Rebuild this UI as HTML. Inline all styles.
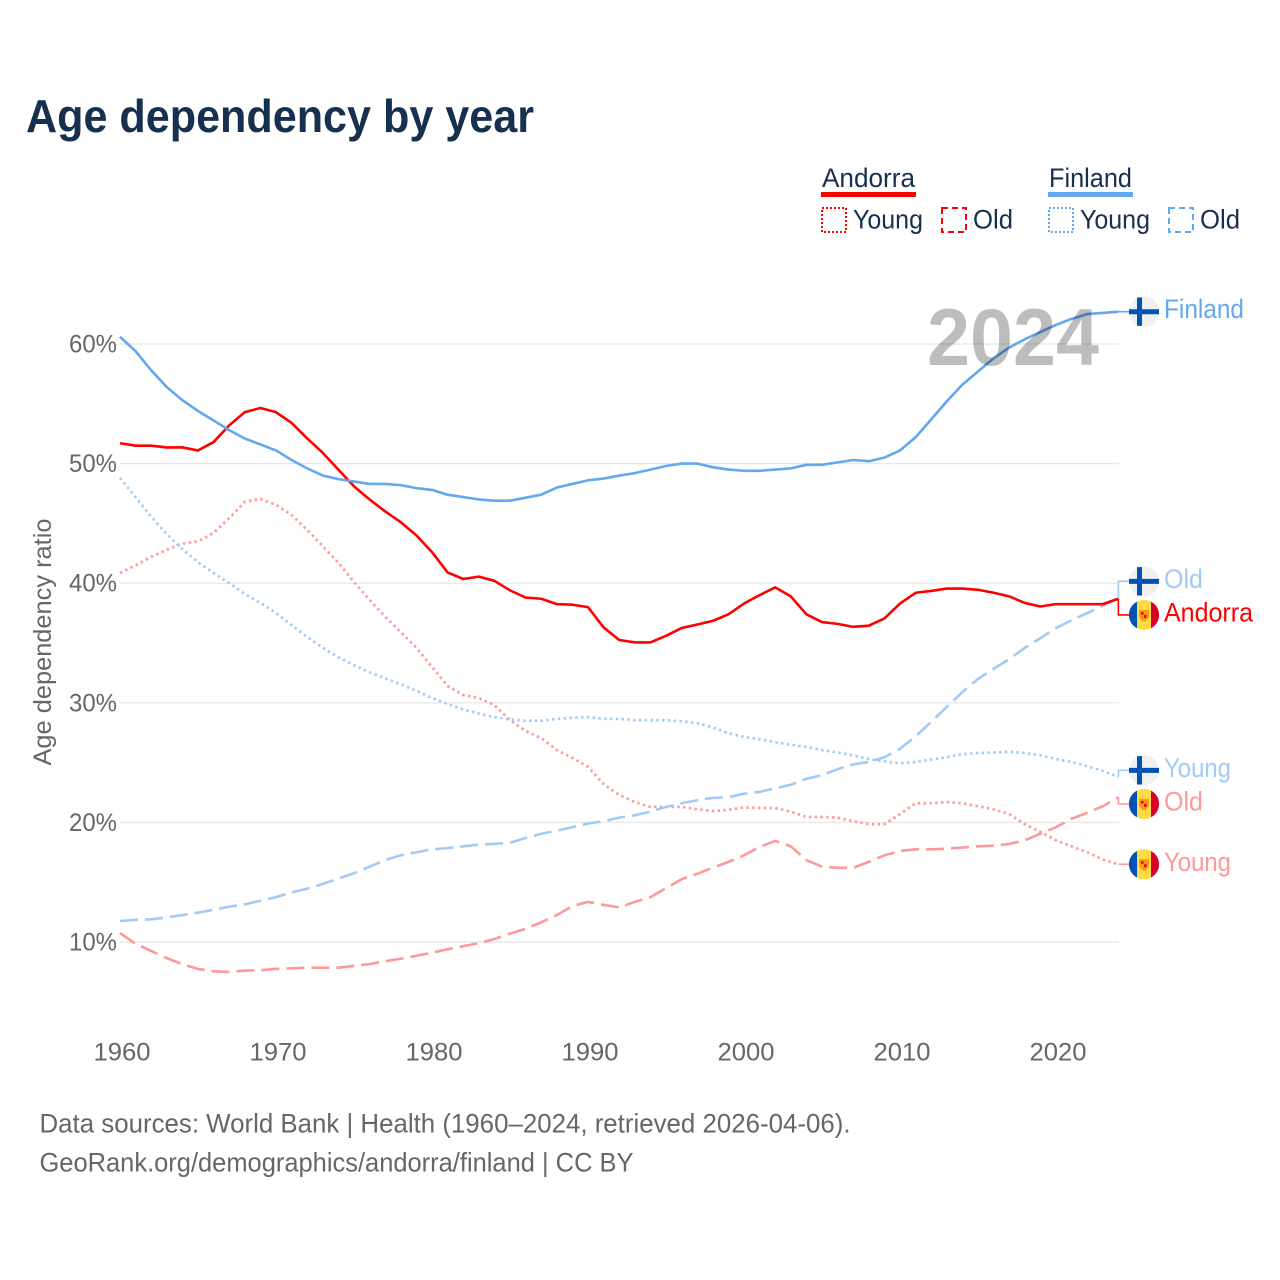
<!DOCTYPE html>
<html lang="en">
<head>
<meta charset="utf-8">
<title>Age dependency by year</title>
<style>
html,body{margin:0;padding:0;background:#fff;}
svg{display:block;font-family:"Liberation Sans",sans-serif;}
</style>
</head>
<body>
<svg id="chart" xmlns="http://www.w3.org/2000/svg" width="1280" height="1280" viewBox="0 0 1280 1280">
  <rect width="1280" height="1280" fill="#ffffff"/>
  <text x="26" y="132" font-size="46" font-weight="700" fill="#17304f" textLength="508" lengthAdjust="spacingAndGlyphs">Age dependency by year</text>

  <g>
    <g>
      <text x="822" y="187" font-size="27" fill="#17304f" textLength="93" lengthAdjust="spacingAndGlyphs">Andorra</text>
      <rect x="821" y="192" width="95" height="5" fill="#ff0000"/>
      <rect x="822" y="208" width="24" height="24" fill="none" stroke="#ff0000" stroke-width="2" stroke-dasharray="2 2"/>
      <text x="853" y="228.5" font-size="27" fill="#17304f" textLength="70" lengthAdjust="spacingAndGlyphs">Young</text>
      <rect x="942" y="208" width="24" height="24" fill="none" stroke="#ff0000" stroke-width="2" stroke-dasharray="6 4"/>
      <text x="973" y="228.5" font-size="27" fill="#17304f" textLength="40" lengthAdjust="spacingAndGlyphs">Old</text>
    </g>
    <g>
      <text x="1049" y="187" font-size="27" fill="#17304f" textLength="83" lengthAdjust="spacingAndGlyphs">Finland</text>
      <rect x="1048" y="192" width="85" height="5" fill="#63a8ef"/>
      <rect x="1049" y="208" width="24" height="24" fill="none" stroke="#63a8ef" stroke-width="2" stroke-dasharray="2 2"/>
      <text x="1080" y="228.5" font-size="27" fill="#17304f" textLength="70" lengthAdjust="spacingAndGlyphs">Young</text>
      <rect x="1169" y="208" width="24" height="24" fill="none" stroke="#63a8ef" stroke-width="2" stroke-dasharray="6 4"/>
      <text x="1200" y="228.5" font-size="27" fill="#17304f" textLength="40" lengthAdjust="spacingAndGlyphs">Old</text>
    </g>
  </g>

  <g id="grid"></g>
  <g id="y-ticks"></g>
  <g id="x-ticks"></g>
  <text transform="translate(51,642) rotate(-90)" text-anchor="middle" font-size="25" fill="#666666" textLength="247" lengthAdjust="spacingAndGlyphs">Age dependency ratio</text>

  <g id="series"></g>

  <text x="927" y="365" font-size="81" font-weight="700" fill="#000000" fill-opacity="0.26" textLength="172" lengthAdjust="spacingAndGlyphs">2024</text>

  <g id="end-labels"></g>

  <text x="39.5" y="1132.5" font-size="26.5" fill="#666666" textLength="811" lengthAdjust="spacingAndGlyphs">Data sources: World Bank | Health (1960–2024, retrieved 2026-04-06).</text>
  <text x="39.5" y="1171.5" font-size="26.5" fill="#666666" textLength="594" lengthAdjust="spacingAndGlyphs">GeoRank.org/demographics/andorra/finland | CC BY</text>
</svg>

<script>
const years = [1960,1961,1962,1963,1964,1965,1966,1967,1968,1969,1970,1971,1972,1973,1974,1975,1976,1977,1978,1979,1980,1981,1982,1983,1984,1985,1986,1987,1988,1989,1990,1991,1992,1993,1994,1995,1996,1997,1998,1999,2000,2001,2002,2003,2004,2005,2006,2007,2008,2009,2010,2011,2012,2013,2014,2015,2016,2017,2018,2019,2020,2021,2022,2023,2024];
const yTickValues = [10,20,30,40,50,60];
const xTickValues = [1960,1970,1980,1990,2000,2010,2020];

const finlandTotal = [60.6,59.4,57.8,56.4,55.3,54.4,53.6,52.8,52.1,51.6,51.1,50.3,49.6,49.0,48.7,48.5,48.3,48.3,48.2,47.95,47.8,47.4,47.2,47.0,46.9,46.9,47.15,47.4,48.0,48.3,48.6,48.75,49.0,49.2,49.5,49.8,50.0,50.0,49.7,49.5,49.4,49.4,49.5,49.6,49.9,49.9,50.1,50.3,50.2,50.5,51.1,52.2,53.7,55.2,56.6,57.7,58.8,59.7,60.4,61.0,61.6,62.1,62.5,62.6,62.7];
const andorraTotal = [51.7,51.5,51.5,51.35,51.35,51.1,51.8,53.2,54.3,54.65,54.3,53.4,52.1,50.9,49.5,48.1,47.0,46.0,45.1,44.0,42.6,40.9,40.35,40.55,40.2,39.4,38.8,38.7,38.25,38.2,38.0,36.3,35.25,35.05,35.05,35.6,36.25,36.55,36.85,37.4,38.3,39.0,39.65,38.9,37.4,36.75,36.6,36.35,36.45,37.05,38.3,39.2,39.35,39.55,39.55,39.45,39.2,38.9,38.35,38.05,38.25,38.25,38.25,38.25,38.7];
const andorraYoung = [40.85,41.5,42.2,42.8,43.3,43.5,44.2,45.45,46.8,47.05,46.55,45.7,44.45,43.1,41.7,40.1,38.6,37.2,35.9,34.6,33.0,31.4,30.65,30.4,29.8,28.55,27.65,27.05,26.05,25.4,24.65,23.2,22.3,21.7,21.3,21.3,21.3,21.1,20.95,21.05,21.25,21.2,21.2,20.9,20.45,20.45,20.4,20.1,19.85,19.85,20.7,21.6,21.6,21.7,21.6,21.35,21.1,20.7,19.85,19.2,18.5,18.0,17.5,16.9,16.5];
const andorraOld = [10.75,9.85,9.25,8.65,8.15,7.75,7.55,7.5,7.6,7.65,7.75,7.8,7.85,7.85,7.85,8.0,8.15,8.4,8.6,8.85,9.1,9.4,9.65,9.9,10.25,10.7,11.1,11.65,12.25,13.0,13.35,13.1,12.9,13.35,13.75,14.5,15.25,15.7,16.2,16.7,17.25,17.95,18.45,18.0,16.85,16.3,16.2,16.2,16.7,17.25,17.6,17.75,17.75,17.8,17.9,18.0,18.05,18.2,18.5,19.05,19.6,20.3,20.8,21.35,22.1];
const finlandYoung = [48.8,47.2,45.55,44.1,42.85,41.75,40.85,40.0,39.1,38.35,37.5,36.5,35.5,34.6,33.8,33.15,32.55,32.05,31.55,31.0,30.4,29.9,29.45,29.1,28.8,28.6,28.5,28.5,28.65,28.75,28.8,28.65,28.65,28.55,28.55,28.55,28.45,28.3,27.95,27.45,27.15,26.95,26.7,26.5,26.3,26.05,25.85,25.6,25.3,25.1,24.95,25.05,25.25,25.45,25.7,25.8,25.85,25.9,25.8,25.6,25.3,25.05,24.7,24.3,23.8];
const finlandOld = [11.75,11.85,11.9,12.05,12.25,12.45,12.7,12.95,13.15,13.45,13.75,14.15,14.45,14.85,15.3,15.75,16.3,16.85,17.25,17.5,17.75,17.85,18.0,18.15,18.2,18.3,18.7,19.05,19.3,19.6,19.9,20.1,20.4,20.6,20.9,21.3,21.6,21.85,22.05,22.1,22.4,22.55,22.85,23.15,23.65,23.95,24.45,24.85,25.05,25.45,26.15,27.2,28.4,29.65,30.9,32.0,32.85,33.65,34.6,35.4,36.25,36.9,37.5,38.1,38.8];

const NS = 'http://www.w3.org/2000/svg';
const xScale = function (year) { return 120 + (year - 1960) * 15.6; };
const yScale = function (value) { return 942 - (value - 10) * 11.96; };

function mk(tag, attrs, parent) {
  const el = document.createElementNS(NS, tag);
  for (const k in attrs) el.setAttribute(k, attrs[k]);
  parent.appendChild(el);
  return el;
}

const gridG = document.getElementById('grid');
const yTickG = document.getElementById('y-ticks');
const xTickG = document.getElementById('x-ticks');
const seriesG = document.getElementById('series');
const endG = document.getElementById('end-labels');

yTickValues.forEach(function (v) {
  const line = mk('line', {x1: 120, x2: 1119, y1: yScale(v), y2: yScale(v), stroke: '#e8e8e8', 'stroke-width': 1.4}, gridG);
  
  
  const label = mk('text', {x: 117, y: yScale(v) + 8.5, 'text-anchor': 'end', 'font-size': 25, fill: '#666666', textLength: 48, lengthAdjust: 'spacingAndGlyphs'}, yTickG);
  
  
  label.textContent = v + '%';
});

xTickValues.forEach(function (yr) {
  const label = mk('text', {x: xScale(yr) + 2, y: 1060.5, 'text-anchor': 'middle', 'font-size': 25, fill: '#666666', textLength: 57, lengthAdjust: 'spacingAndGlyphs'}, xTickG);
  
  
  label.textContent = yr;
});

function linePath(values) {
  return values.map(function (v, i) {
    return (i ? 'L' : 'M') + xScale(years[i]).toFixed(2) + ' ' + yScale(v).toFixed(2);
  }).join(' ');
}

function drawSeries(values, color, dash, width, name) {
  const attrs = {d: linePath(values), fill: 'none', stroke: color, 'stroke-width': width, 'stroke-linejoin': 'round'};
  if (dash) attrs['stroke-dasharray'] = dash;
  const p = mk('path', attrs, seriesG);
  
  
}

const PINK = '#ff9999';
const SKY = '#a1cbf5';
const BLUE = '#63a8ef';
const RED = '#ff0000';
const DOTS = '2.4 3.4';
const DASHES = '18 7';

drawSeries(andorraYoung, PINK, DOTS, 2.7, 'line-andorra-young');
drawSeries(finlandYoung, SKY, DOTS, 2.7, 'line-finland-young');
drawSeries(andorraOld, PINK, DASHES, 2.6, 'line-andorra-old');
drawSeries(finlandOld, SKY, DASHES, 2.6, 'line-finland-old');
drawSeries(andorraTotal, RED, null, 2.6, 'line-andorra-total');
drawSeries(finlandTotal, BLUE, null, 2.6, 'line-finland-total');

/* End labels: start at each series' last value, then spread apart to avoid overlap. */
const endItems = [
  {series: finlandTotal, text: 'Finland', color: BLUE, flag: 'fi', width: 80},
  {series: finlandOld, text: 'Old', color: SKY, flag: 'fi', width: 39},
  {series: andorraTotal, text: 'Andorra', color: RED, flag: 'ad', width: 89},
  {series: finlandYoung, text: 'Young', color: SKY, flag: 'fi', width: 67},
  {series: andorraOld, text: 'Old', color: PINK, flag: 'ad', width: 39},
  {series: andorraYoung, text: 'Young', color: PINK, flag: 'ad', width: 67}
];
endItems.forEach(function (it) {
  it.lineY = yScale(it.series[it.series.length - 1]);
  it.labelY = it.lineY;
});
endItems.sort(function (a, b) { return a.lineY - b.lineY; });
const MIN_GAP = 33.6;
for (let pass = 0; pass < 30; pass++) {
  for (let i = 1; i < endItems.length; i++) {
    const gap = endItems[i].labelY - endItems[i - 1].labelY;
    if (gap < MIN_GAP) {
      const shift = (MIN_GAP - gap) / 2;
      endItems[i - 1].labelY -= shift;
      endItems[i].labelY += shift;
    }
  }
}

function drawFinlandFlag(cy, parent) {
  const disc = mk('circle', {cx: 1144, cy: cy, r: 15, fill: '#f0f0f0'}, parent);
  
  
  const clip = 'M1137 ' + (cy - 14.2) + ' h5 v' + 28.4 + ' h-5 z M1129 ' + (cy - 2.5) + ' h30 v5 h-30 z';
  const cross = mk('path', {d: clip, fill: '#0052b4'}, parent);
  
  
}

function drawAndorraFlag(cy, parent) {
  const disc = mk('circle', {cx: 1144, cy: cy, r: 15, fill: '#ffda44'}, parent);
  
  
  const blue = mk('path', {d: 'M1137 ' + (cy - 13.3) + ' A15 15 0 0 0 1137 ' + (cy + 13.3) + ' Z', fill: '#0052b4'}, parent);
  
  
  const red = mk('path', {d: 'M1151 ' + (cy - 13.3) + ' A15 15 0 0 1 1151 ' + (cy + 13.3) + ' Z', fill: '#d80027'}, parent);
  
  
  const shield = mk('path', {d: 'M1139 ' + (cy - 5) + ' h10 v6 q-1 3 -5 6 q-4 -3 -5 -6 z', fill: '#ff9811'}, parent);
  
  
  const q1 = mk('rect', {x: 1141, y: cy - 3, width: 2.5, height: 2.5, fill: '#d80027'}, parent);
  
  
  const q2 = mk('rect', {x: 1144, y: cy, width: 2.5, height: 3, fill: '#d80027'}, parent);
  
  
}

endItems.forEach(function (it) {
  const lastX = xScale(years[years.length - 1]);
  const conn = mk('path', {d: 'M' + lastX + ' ' + it.lineY + ' V' + it.labelY + ' H1132', fill: 'none', stroke: it.color, 'stroke-width': 1.6}, endG);
  
  
  if (it.flag === 'fi') drawFinlandFlag(it.labelY, endG);
  else drawAndorraFlag(it.labelY, endG);
  const t = mk('text', {x: 1164, y: it.labelY + 6.5, 'font-size': 26.5, fill: it.color, textLength: it.width, lengthAdjust: 'spacingAndGlyphs'}, endG);
  
  
  t.textContent = it.text;
});
</script>
</body>
</html>
